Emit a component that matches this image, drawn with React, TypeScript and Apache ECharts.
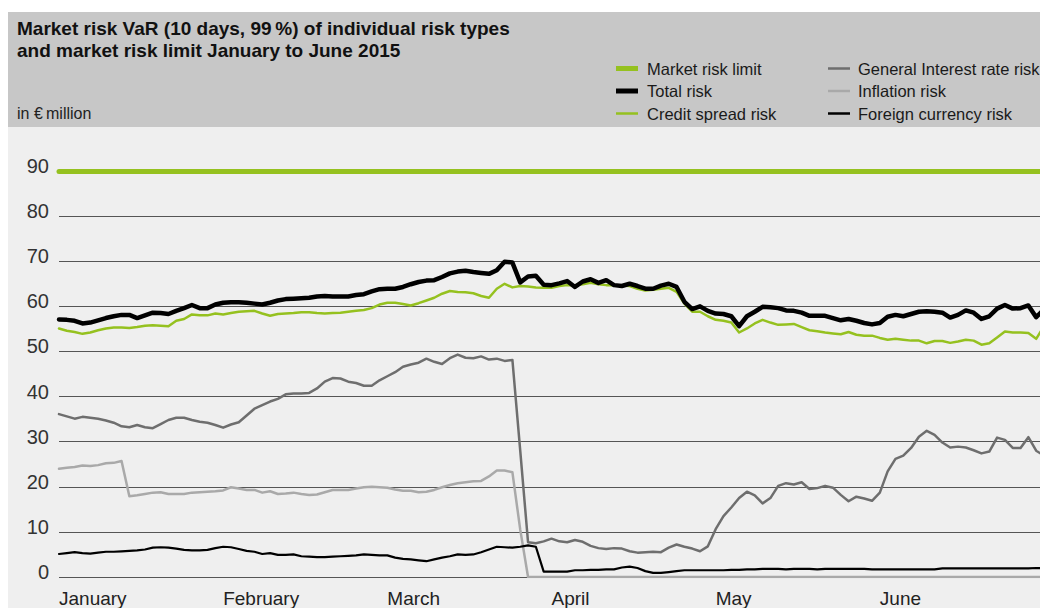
import React, { useEffect, useRef } from "react";
import * as echarts from "echarts";

// Trading days January to June 2015 (category positions)
const days: string[] = Array.from({ length: 127 }, (_, i) => `Day ${i + 1}`);
const monthLabels = ["January", "February", "March", "April", "May", "June"];
const monthStart = [0, 21, 42, 63, 84, 105];

const marketRiskLimit = 90;

const totalRisk = [
  57.1, 57.0, 56.8, 56.2, 56.4, 56.9, 57.4, 57.8, 58.1, 58.1,
  57.4, 58.0, 58.6, 58.5, 58.3, 59.0, 59.6, 60.3, 59.6, 59.6,
  60.4, 60.8, 60.9, 60.9, 60.8, 60.6, 60.4, 60.8, 61.3, 61.6,
  61.7, 61.8, 61.9, 62.2, 62.3, 62.2, 62.2, 62.2, 62.5, 62.7,
  63.3, 63.8, 63.9, 63.9, 64.3, 64.9, 65.4, 65.7, 65.8, 66.5,
  67.3, 67.7, 67.9, 67.6, 67.4, 67.2, 68.0, 69.9, 69.7, 65.3,
  66.6, 66.8, 64.8, 64.7, 65.1, 65.6, 64.3, 65.5, 66.0, 65.2,
  65.8, 64.7, 64.5, 65.0, 64.5, 63.9, 63.9, 64.6, 65.0, 64.3,
  61.0, 59.4, 60.0, 59.0, 58.4, 58.3, 57.8, 55.6, 57.8, 58.8,
  59.9, 59.8, 59.6, 59.1, 59.0, 58.6, 57.9, 57.9, 57.9, 57.4,
  56.9, 57.2, 56.8, 56.3, 56.0, 56.3, 57.7, 58.1, 57.8, 58.3,
  58.8, 58.9, 58.8, 58.6, 57.5, 58.1, 59.1, 58.6, 57.2, 57.8,
  59.5, 60.3, 59.5, 59.6, 60.2, 57.6, 59.3,
];

const creditSpreadRisk = [
  55.1, 54.6, 54.3, 53.9, 54.2, 54.7, 55.1, 55.3, 55.3, 55.2,
  55.4, 55.7, 55.8, 55.7, 55.6, 56.8, 57.2, 58.2, 58.0, 58.0,
  58.4, 58.2, 58.5, 58.8, 58.9, 59.0, 58.4, 57.9, 58.3, 58.4,
  58.5, 58.7, 58.7, 58.5, 58.4, 58.5, 58.6, 58.8, 59.0, 59.2,
  59.6, 60.4, 60.8, 60.8, 60.5, 60.2, 60.7, 61.3, 61.9, 62.8,
  63.4, 63.2, 63.1, 62.9, 62.3, 61.9, 63.9, 65.0, 64.2, 64.5,
  64.4, 64.2, 64.1, 64.1, 64.5, 64.7, 64.7, 64.9, 65.2, 64.9,
  64.7, 64.7, 64.6, 64.5, 63.9, 63.5, 63.7, 63.9, 64.1, 63.2,
  60.6, 58.8, 58.8, 57.8, 57.0, 56.8, 56.4, 54.2, 55.1, 56.2,
  57.0, 56.4, 55.9, 56.0, 56.1, 55.4, 54.7, 54.5, 54.2, 54.0,
  53.8, 54.3, 53.7, 53.5, 53.5, 53.0, 52.6, 52.8, 52.6, 52.4,
  52.4, 51.8, 52.3, 52.3, 51.9, 52.2, 52.6, 52.4, 51.5, 51.8,
  53.1, 54.4, 54.2, 54.2, 54.1, 52.8, 55.6,
];

const generalInterestRateRisk = [
  36.1, 35.6, 35.1, 35.5, 35.3, 35.1, 34.7, 34.2, 33.4, 33.2,
  33.7, 33.2, 33.0, 33.9, 34.8, 35.3, 35.3, 34.8, 34.4, 34.2,
  33.7, 33.1, 33.8, 34.3, 35.8, 37.3, 38.1, 38.9, 39.5, 40.5,
  40.7, 40.7, 40.8, 41.8, 43.3, 44.1, 44.0, 43.3, 43.0, 42.4,
  42.4, 43.6, 44.5, 45.4, 46.6, 47.1, 47.5, 48.4, 47.7, 47.2,
  48.5, 49.3, 48.6, 48.5, 48.9, 48.2, 48.4, 47.9, 48.1, 28.0,
  7.7, 7.5, 7.9, 8.5, 7.9, 7.7, 8.2, 7.8, 6.9, 6.4,
  6.2, 6.4, 6.3, 5.7, 5.4, 5.5, 5.6, 5.5, 6.5, 7.2,
  6.7, 6.3, 5.7, 6.8, 10.6, 13.5, 15.4, 17.5, 18.9, 18.1,
  16.3, 17.5, 20.2, 20.8, 20.5, 21.0, 19.5, 19.7, 20.2, 19.8,
  18.2, 16.8, 17.8, 17.4, 16.9, 18.7, 23.4, 26.2, 26.9, 28.6,
  31.1, 32.4, 31.5, 29.8, 28.7, 28.9, 28.7, 28.1, 27.4, 27.8,
  30.9, 30.4, 28.6, 28.6, 31.0, 28.0, 26.9,
];

const inflationRisk = [
  24.0, 24.2, 24.4, 24.7, 24.6, 24.8, 25.2, 25.3, 25.7, 17.9,
  18.1, 18.4, 18.7, 18.8, 18.4, 18.4, 18.4, 18.7, 18.8, 18.9,
  19.0, 19.2, 19.9, 19.6, 19.3, 19.3, 18.7, 19.0, 18.4, 18.5,
  18.7, 18.4, 18.2, 18.3, 18.8, 19.3, 19.3, 19.3, 19.6, 19.9,
  20.0, 19.9, 19.8, 19.4, 19.1, 19.1, 18.8, 18.9, 19.3, 19.9,
  20.4, 20.8, 21.0, 21.2, 21.3, 22.3, 23.6, 23.6, 23.2, 10.5,
  0, 0, 0, 0, 0, 0, 0, 0, 0, 0,
  0, 0, 0, 0, 0, 0, 0, 0, 0, 0,
  0, 0, 0, 0, 0, 0, 0, 0, 0, 0,
  0, 0, 0, 0, 0, 0, 0, 0, 0, 0,
  0, 0, 0, 0, 0, 0, 0, 0, 0, 0,
  0, 0, 0, 0, 0, 0, 0, 0, 0, 0,
  0, 0, 0, 0, 0, 0, 0,
];

const foreignCurrencyRisk = [
  5.1, 5.3, 5.5, 5.3, 5.2, 5.4, 5.6, 5.6, 5.7, 5.8,
  5.9, 6.1, 6.5, 6.6, 6.5, 6.3, 6.0, 5.9, 5.9, 6.0,
  6.4, 6.7, 6.6, 6.2, 5.8, 5.6, 5.1, 5.3, 4.9, 4.9,
  5.0, 4.6, 4.5, 4.4, 4.4, 4.5, 4.6, 4.7, 4.8, 5.0,
  4.9, 4.8, 4.8, 4.3, 4.0, 3.9, 3.7, 3.5, 3.9, 4.3,
  4.6, 5.0, 4.9, 5.0, 5.5, 6.1, 6.7, 6.6, 6.5, 6.7,
  7.0, 6.7, 1.2, 1.2, 1.2, 1.2, 1.5, 1.5, 1.6, 1.6,
  1.7, 1.7, 2.1, 2.3, 2.0, 1.3, 0.9, 0.9, 1.1, 1.3,
  1.5, 1.5, 1.5, 1.5, 1.5, 1.5, 1.6, 1.6, 1.7, 1.7,
  1.8, 1.8, 1.8, 1.7, 1.8, 1.8, 1.8, 1.7, 1.8, 1.8,
  1.8, 1.8, 1.8, 1.8, 1.7, 1.7, 1.7, 1.7, 1.7, 1.7,
  1.7, 1.7, 1.7, 1.9, 1.9, 1.9, 1.9, 1.9, 1.9, 1.9,
  1.9, 1.9, 1.9, 1.9, 1.9, 2.0, 1.9,
];

const GREEN = "#95c11f";
const DARK_GREY = "#6e6e6e";
const LIGHT_GREY = "#a9a9a9";
const FONT = '"Liberation Sans", Arial, sans-serif';

const legendItems = [
  { name: "Market risk limit", color: GREEN, thick: 5, col: 0, row: 0 },
  { name: "Total risk", color: "#000000", thick: 5, col: 0, row: 1 },
  { name: "Credit spread risk", color: GREEN, thick: 2.5, col: 0, row: 2 },
  { name: "General Interest rate risk", color: DARK_GREY, thick: 2.5, col: 1, row: 0 },
  { name: "Inflation risk", color: LIGHT_GREY, thick: 2.5, col: 1, row: 1 },
  { name: "Foreign currency risk", color: "#000000", thick: 2.5, col: 1, row: 2 },
];

function lineSeries(name: string, data: number[], color: string, width: number) {
  return {
    name,
    type: "line",
    data,
    symbol: "none",
    showSymbol: false,
    silent: true,
    lineStyle: { color, width, join: "round", cap: "round" },
    itemStyle: { color },
  };
}

export default function App() {
  const ref = useRef<HTMLDivElement>(null);

  useEffect(() => {
    if (!ref.current) return;
    const chart = echarts.init(ref.current, null, { renderer: "svg" });

    const colIconX = [608, 820];
    const colTextX = [639, 850];
    const rowY = [56.5, 79, 101.5];

    const legendGraphics: any[] = [];
    legendItems.forEach((it) => {
      const y = rowY[it.row];
      legendGraphics.push({
        type: "rect",
        shape: { x: colIconX[it.col], y: y - it.thick / 2, width: 22, height: it.thick },
        style: { fill: it.color },
        silent: true,
      });
      legendGraphics.push({
        type: "text",
        x: colTextX[it.col],
        y,
        style: {
          text: it.name,
          fontSize: 16.5,
          fontFamily: FONT,
          fill: "#1a1a1a",
          verticalAlign: "middle",
          align: "left",
        },
        silent: true,
      });
    });

    const option: any = {
      animation: false,
      textStyle: { fontFamily: FONT },
      grid: { left: 51, right: 4, top: 159, bottom: 27, containLabel: false },
      xAxis: {
        type: "category",
        data: days,
        boundaryGap: false,
        axisLine: { show: false },
        axisTick: { show: false },
        splitLine: { show: false },
        axisLabel: {
          interval: (i: number) => monthStart.includes(i),
          formatter: (_v: string, i: number) => {
            const k = monthStart.indexOf(i);
            return k >= 0 ? monthLabels[k] : "";
          },
          align: "left",
          margin: 12,
          fontSize: 19,
          color: "#222",
          fontFamily: FONT,
        },
      },
      yAxis: {
        type: "value",
        min: 0,
        max: 90,
        interval: 10,
        axisLine: { show: false },
        axisTick: { show: false },
        splitLine: { show: true, lineStyle: { color: "#555555", width: 1 } },
        axisLabel: {
          fontSize: 20,
          color: "#333",
          margin: 10,
          verticalAlign: "bottom",
          lineHeight: 10,
          fontFamily: FONT,
        },
      },
      graphic: [
        {
          type: "rect",
          shape: { x: 0, y: 0, width: 1040, height: 115 },
          style: { fill: "#c7c7c7" },
          silent: true,
        },
        {
          type: "text",
          x: 9,
          y: 16.7,
          style: {
            text: "Market risk VaR (10 days, 99\u2009%) of individual risk types",
            fontSize: 19,
            fontWeight: "bold",
            fontFamily: FONT,
            fill: "#111",
            verticalAlign: "middle",
          },
          silent: true,
        },
        {
          type: "text",
          x: 9,
          y: 38.5,
          style: {
            text: "and market risk limit January to June 2015",
            fontSize: 19,
            fontWeight: "bold",
            fontFamily: FONT,
            fill: "#111",
            verticalAlign: "middle",
          },
          silent: true,
        },
        {
          type: "text",
          x: 9,
          y: 101.5,
          style: {
            text: "in €\u2009million",
            fontSize: 16,
            fontFamily: FONT,
            fill: "#222",
            verticalAlign: "middle",
          },
          silent: true,
        },
        ...legendGraphics,
      ],
      series: [
        {
          name: "Market risk limit",
          type: "line",
          data: [],
          symbol: "none",
          silent: true,
          markLine: {
            silent: true,
            symbol: "none",
            label: { show: false },
            lineStyle: { color: GREEN, width: 5, type: "solid", cap: "round" },
            emphasis: { disabled: true },
            data: [{ yAxis: marketRiskLimit }],
          },
        },
        lineSeries("Inflation risk", inflationRisk, LIGHT_GREY, 2.5),
        lineSeries("General Interest rate risk", generalInterestRateRisk, DARK_GREY, 2.5),
        lineSeries("Foreign currency risk", foreignCurrencyRisk, "#000000", 2.2),
        lineSeries("Credit spread risk", creditSpreadRisk, GREEN, 2.5),
        lineSeries("Total risk", totalRisk, "#000000", 4.5),
      ],
    };

    chart.setOption(option);
    return () => chart.dispose();
  }, []);

  return (
    <div style={{ paddingTop: 4 }}>
      <div ref={ref} style={{ width: 1040, height: 596, background: "#efefef" }} />
    </div>
  );
}
